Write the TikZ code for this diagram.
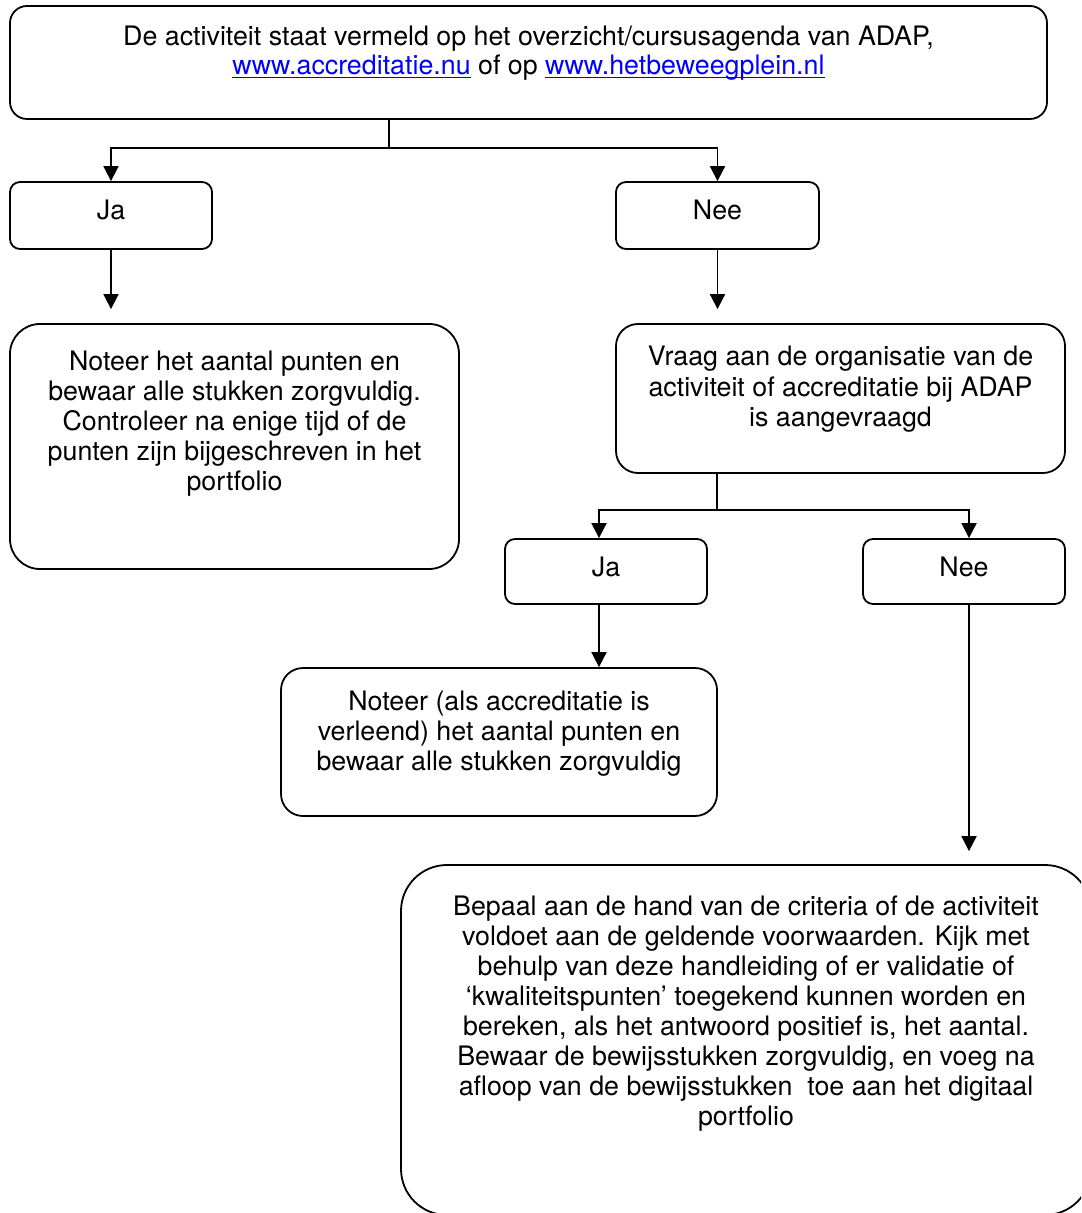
\documentclass[tikz,border=0pt]{standalone}
\usepackage{fontspec}
\setmainfont{TeX Gyre Heros}
\usetikzlibrary{arrows.meta}
\tikzset{box/.style = {draw, line width=0.9pt, inner sep=0pt,
                       font=\fontsize{13.4}{15}\selectfont},
         flow/.style = {line width=0.9pt, -{Triangle[width=7.5pt, length=7.5pt]}}}
\definecolor{linkblue}{rgb}{0, 0, 1}
\newcommand{\boxtext}[4]{\parbox[c][#2][t]{#1}{\centering\vspace*{#3}\strut#4}}
\newcommand{\weblink}[1]{\leavevmode{\color{linkblue}\setbox0\hbox{#1}\rlap{\rule[-1.6pt]{\wd0}{0.6pt}}\box0}}

\begin{document}
\begin{tikzpicture}[x=0.5pt, y=-0.5pt]
    \useasboundingbox (0, 0) rectangle (1081, 1213);
    \clip (0, 0) rectangle (1081, 1213);

    \node [box, rounded corners=8.5pt] (top) at (528.5, 62.5) {\boxtext{518.5pt}{56.5pt}{9.5pt}{De activiteit staat vermeld op het overzicht/cursusagenda van ADAP,\\[-0.6pt]\weblink{www.accreditatie.nu} of op \weblink{www.hetbeweegplein.nl}}};

    \node [box, rounded corners=5pt] (ja1) at (111, 215.5) {\boxtext{101pt}{33.5pt}{8.4pt}{Ja}};
    \node [box, rounded corners=5pt] (nee1) at (717.5, 215.5) {\boxtext{101.5pt}{33.5pt}{8.4pt}{Nee}};

    \node [box, rounded corners=15pt] (noteer1) at (234.5, 446.5) {\boxtext{224.5pt}{122.5pt}{13pt}{Noteer het aantal punten en\\bewaar alle stukken zorgvuldig.\\Controleer na enige tijd of de\\punten zijn bijgeschreven in het\\portfolio}};
    \node [box, rounded corners=11pt] (vraag) at (840.5, 398.5) {\boxtext{224.5pt}{74.5pt}{10.5pt}{Vraag aan de organisatie van de\\activiteit of accreditatie bij ADAP\\is aangevraagd}};

    \node [box, rounded corners=5pt] (ja2) at (606, 571.5) {\boxtext{101pt}{32.5pt}{8.2pt}{Ja}};
    \node [box, rounded corners=5pt] (nee2) at (964, 571.5) {\boxtext{101pt}{32.5pt}{8.2pt}{Nee}};

    \node [box, rounded corners=11pt] (noteer2) at (499, 742) {\boxtext{218pt}{74pt}{10.5pt}{Noteer (als accreditatie is\\verleend) het aantal punten en\\bewaar alle stukken zorgvuldig}};
    \node [box, rounded corners=23pt] (bepaal) at (746, 1040) {\boxtext{345pt}{175pt}{14.8pt}{Bepaal aan de hand van de criteria of de activiteit\\voldoet aan de geldende voorwaarden. Kijk met\\behulp van deze handleiding of er validatie of\\‘kwaliteitspunten’ toegekend kunnen worden en\\bereken, als het antwoord positief is, het aantal.\\Bewaar de bewijsstukken zorgvuldig, en voeg na\\afloop van de bewijsstukken\ \ toe aan het digitaal\\portfolio}};

    \coordinate (split1) at (389, 148);
    \draw [line width=0.9pt] (top.south -| split1) -- (split1);
    \draw [flow] (split1) -| (ja1);
    \draw [flow] (split1) -| (nee1);

    \draw [flow, shorten >=7pt] (ja1) -- (ja1 |- noteer1.north);
    \draw [flow, shorten >=7pt] (nee1) -- (nee1 |- vraag.north);

    \coordinate (split2) at (717, 510);
    \draw [line width=0.9pt] (vraag.south -| split2) -- (split2);
    \draw [flow] (split2) -| ([xshift=-3.5pt]ja2.north);
    \draw [flow] (split2) -| ([xshift=2.5pt]nee2.north);

    \draw [flow] ([xshift=-3.5pt]ja2.south) -- ([xshift=-3.5pt]ja2.south |- noteer2.north);
    \draw [flow, shorten >=6.5pt] ([xshift=2.5pt]nee2.south) -- ([xshift=2.5pt]nee2.south |- bepaal.north);
\end{tikzpicture}
\end{document}
